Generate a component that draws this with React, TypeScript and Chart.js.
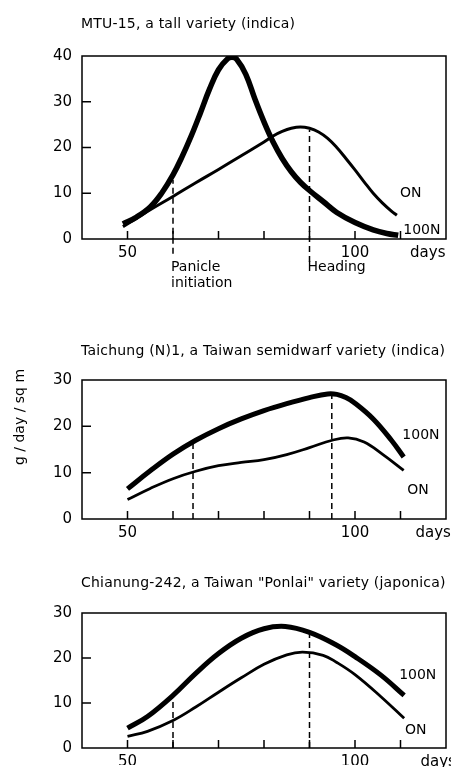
import React, { useEffect, useRef } from 'react';
import { Chart, registerables } from 'chart.js';

Chart.register(...registerables);

const FONT = '"DejaVu Sans", sans-serif';

// ---------- Shared axis data ----------
const xMinDay = 40;
const xMaxDay = 120;
const xTickDays = [50, 60, 70, 80, 90, 100, 110];
const xLabelDays = [50, 100];
const unitLabel = 'days';
const yAxisTitle = 'g / day / sq m';

// ---------- Panel 1: MTU-15 ----------
const mtuTitle = 'MTU-15, a tall variety (indica)';
const mtuYMax = 40;
const mtuYTicks = [10, 20, 30];
const mtuDays100N = [49, 52, 55, 57.5, 60, 62, 64, 66, 68, 70, 72, 73, 74, 76, 78, 80, 82, 84, 86, 88, 90, 93, 96, 100, 104, 107, 109.5];
const mtuVals100N = [3.3, 4.8, 7.0, 10.0, 14.0, 18.0, 22.5, 27.5, 32.7, 37.0, 39.4, 39.7, 39.3, 36.0, 30.6, 25.6, 21.2, 17.6, 14.7, 12.4, 10.6, 8.2, 5.8, 3.6, 2.0, 1.2, 0.8];
const mtuDaysON = [49, 55, 60, 65, 70, 75, 80, 82, 84, 86, 88, 90, 92, 94, 96, 98, 100, 102, 104, 106, 108, 109.2];
const mtuValsON = [2.7, 6.4, 9.3, 12.3, 15.2, 18.2, 21.2, 22.5, 23.5, 24.2, 24.5, 24.2, 23.4, 22.0, 20.0, 17.6, 15.1, 12.5, 10.0, 7.9, 6.1, 5.2];
const mtuMarkerDays = [60, 90];
const mtuMarkerTops = [12.9, 23.8];
const mtuMarkerBottoms = [-3.2, -5.0];
const mtuMarkerNames = [['Panicle', 'initiation'], ['Heading']];

// ---------- Panel 2: Taichung (N)1 ----------
const tcnTitle = 'Taichung (N)1, a Taiwan semidwarf variety (indica)';
const tcnYMax = 30;
const tcnYTicks = [10, 20];
const tcnDays100N = [50, 55, 60, 65, 70, 75, 80, 85, 90, 94, 96, 98, 100, 104, 108, 110.7];
const tcnVals100N = [6.5, 10.4, 14.0, 17.0, 19.5, 21.6, 23.4, 24.9, 26.2, 27.0, 26.9, 26.2, 25.0, 21.6, 17.0, 13.4];
const tcnDaysON = [50, 55, 60, 65, 70, 75, 80, 85, 90, 95, 98.5, 102, 106, 110.7];
const tcnValsON = [4.2, 6.6, 8.7, 10.3, 11.5, 12.2, 12.8, 13.9, 15.4, 17.0, 17.5, 16.6, 14.0, 10.5];
const tcnMarkerDays = [64.4, 94.9];
const tcnMarkerTops = [17.0, 27.1];
const tcnMarkerBottoms = [0, 0];

// ---------- Panel 3: Chianung-242 ----------
const cnTitle = 'Chianung-242, a Taiwan "Ponlai" variety (japonica)';
const cnYMax = 30;
const cnYTicks = [10, 20];
const cnDays100N = [50, 54.4, 60, 65, 70, 75, 80, 84.7, 90, 95.7, 100, 105.7, 110.8];
const cnVals100N = [4.4, 7.0, 11.7, 16.6, 21.0, 24.4, 26.5, 27.0, 25.7, 23.0, 20.3, 16.2, 11.7];
const cnDaysON = [50, 54.4, 60, 65, 70, 75, 80, 85, 88.5, 93, 96, 100, 105.7, 110.8];
const cnValsON = [2.6, 3.7, 6.1, 9.1, 12.4, 15.6, 18.6, 20.7, 21.3, 20.6, 19.0, 16.3, 11.4, 6.6];
const cnMarkerDays = [60, 90];
const cnMarkerTops = [10.3, 25.6];
const cnMarkerBottoms = [0, 0];

// series label anchors (day, value)
const seriesNames = ['100N', 'ON'];
const mtuLabelAnchors = [[110.6, 1.9], [109.9, 10.0]];
const tcnLabelAnchors = [[110.4, 18.1], [111.5, 6.2]];
const cnLabelAnchors = [[109.7, 16.1], [111.0, 4.0]];
const daysLabelAnchors = [112.1, 113.3, 114.4];

type PanelCfg = {
  top: number;
  height: number;
  padTop: number;
  padBottom: number;
  xHeight: number;
  title: string;
  titleY: number;
  yMax: number;
  yTicks: number[];
  d100: number[];
  v100: number[];
  dON: number[];
  vON: number[];
  w100: number;
  wON: number;
  mDays: number[];
  mTops: number[];
  mBottoms: number[];
  mNames?: string[][];
  labelAnchors: number[][];
  daysAt: number;
  yTitle?: boolean;
};

const zip = (xs: number[], ys: number[]) => xs.map((x, i) => ({ x, y: ys[i] }));

const panels: PanelCfg[] = [
  {
    top: 0, height: 300, padTop: 56, padBottom: 41, xHeight: 20,
    title: mtuTitle, titleY: 24, yMax: mtuYMax, yTicks: mtuYTicks,
    d100: mtuDays100N, v100: mtuVals100N, dON: mtuDaysON, vON: mtuValsON,
    w100: 5.5, wON: 3,
    mDays: mtuMarkerDays, mTops: mtuMarkerTops, mBottoms: mtuMarkerBottoms, mNames: mtuMarkerNames,
    labelAnchors: mtuLabelAnchors, daysAt: daysLabelAnchors[0],
  },
  {
    top: 300, height: 245, padTop: 80, padBottom: 6, xHeight: 20,
    title: tcnTitle, titleY: 51.5, yMax: tcnYMax, yTicks: tcnYTicks,
    d100: tcnDays100N, v100: tcnVals100N, dON: tcnDaysON, vON: tcnValsON,
    w100: 5, wON: 2.8,
    mDays: tcnMarkerDays, mTops: tcnMarkerTops, mBottoms: tcnMarkerBottoms,
    labelAnchors: tcnLabelAnchors, daysAt: daysLabelAnchors[1], yTitle: true,
  },
  {
    top: 545, height: 222, padTop: 68, padBottom: 0, xHeight: 17,
    title: cnTitle, titleY: 38.5, yMax: cnYMax, yTicks: cnYTicks,
    d100: cnDays100N, v100: cnVals100N, dON: cnDaysON, vON: cnValsON,
    w100: 5, wON: 2.8,
    mDays: cnMarkerDays, mTops: cnMarkerTops, mBottoms: cnMarkerBottoms,
    labelAnchors: cnLabelAnchors, daysAt: daysLabelAnchors[2],
  },
];

function Panel({ cfg }: { cfg: PanelCfg }) {
  const ref = useRef<HTMLCanvasElement>(null);
  useEffect(() => {
    const canvas = ref.current;
    if (!canvas) return;
    const markerSets = cfg.mDays.map((d, i) => ({
      label: 'marker' + i,
      data: [{ x: d, y: cfg.mBottoms[i] }, { x: d, y: cfg.mTops[i] }],
      borderColor: '#000',
      borderWidth: 1.5,
      borderDash: [6, 4],
      pointRadius: 0,
      tension: 0,
      fill: false,
      clip: false as any,
    }));
    const annot = {
      id: 'annot',
      afterDraw(chart: any) {
        const { ctx, chartArea: a, scales } = chart;
        const xs = scales.x;
        const ys = scales.y;
        ctx.save();
        ctx.strokeStyle = '#000';
        ctx.fillStyle = '#000';
        ctx.lineWidth = 1.5;
        ctx.strokeRect(a.left, a.top, a.right - a.left, a.bottom - a.top);
        ctx.beginPath();
        for (const d of xTickDays) {
          const px = xs.getPixelForValue(d);
          ctx.moveTo(px, a.bottom);
          ctx.lineTo(px, a.bottom - 8);
        }
        for (const v of cfg.yTicks) {
          const py = ys.getPixelForValue(v);
          ctx.moveTo(a.left, py);
          ctx.lineTo(a.left + 9, py);
        }
        ctx.stroke();
        ctx.textBaseline = 'middle';
        ctx.textAlign = 'left';
        // title
        ctx.font = '14px ' + FONT;
        (ctx as any).letterSpacing = '0.2px';
        ctx.fillText(cfg.title, a.left - 1, cfg.titleY);
        (ctx as any).letterSpacing = '0px';
        // series labels
        ctx.font = '14px ' + FONT;
        cfg.labelAnchors.forEach((p, i) => {
          ctx.fillText(seriesNames[i], xs.getPixelForValue(p[0]), ys.getPixelForValue(p[1]));
        });
        // days label aligned with tick labels
        ctx.font = '15px ' + FONT;
        ctx.fillText(unitLabel, xs.getPixelForValue(cfg.daysAt), a.bottom + 5 + 9);
        // marker names
        if (cfg.mNames) {
          ctx.font = '14px ' + FONT;
          cfg.mNames.forEach((lines, i) => {
            const px = xs.getPixelForValue(cfg.mDays[i]) - 2;
            lines.forEach((t, j) => ctx.fillText(t, px, a.bottom + 28 + j * 16));
          });
        }
        if (cfg.yTitle) {
          ctx.font = '14px ' + FONT;
          ctx.translate(20, a.top + 37);
          ctx.rotate(-Math.PI / 2);
          ctx.textAlign = 'center';
          ctx.fillText(yAxisTitle, 0, 0);
        }
        ctx.restore();
      },
    };
    const chart = new Chart(canvas, {
      type: 'line',
      data: {
        datasets: [
          {
            label: seriesNames[0],
            data: zip(cfg.d100, cfg.v100),
            borderColor: '#000',
            borderWidth: cfg.w100,
            pointRadius: 0,
            tension: 0.4,
            fill: false,
          },
          {
            label: seriesNames[1],
            data: zip(cfg.dON, cfg.vON),
            borderColor: '#000',
            borderWidth: cfg.wON,
            pointRadius: 0,
            tension: 0.4,
            fill: false,
          },
          ...markerSets,
        ] as any,
      },
      options: {
        responsive: false,
        animation: false,
        devicePixelRatio: 1,
        layout: { padding: { left: 0, right: 4, top: cfg.padTop, bottom: cfg.padBottom } },
        plugins: { legend: { display: false }, tooltip: { enabled: false }, title: { display: false } },
        scales: {
          x: {
            type: 'linear',
            min: xMinDay,
            max: xMaxDay,
            grid: { display: false, drawTicks: false },
            border: { display: false },
            ticks: {
              stepSize: 10,
              autoSkip: false,
              maxRotation: 0,
              padding: 5,
              color: '#000',
              font: { family: FONT, size: 15 },
              callback: (v: any) => (xLabelDays.includes(Number(v)) ? String(v) : ''),
            },
            afterFit: (s: any) => { s.height = cfg.xHeight; },
          },
          y: {
            type: 'linear',
            min: 0,
            max: cfg.yMax,
            grid: { display: false, drawTicks: false },
            border: { display: false },
            ticks: {
              stepSize: 10,
              padding: 10,
              color: '#000',
              font: { family: FONT, size: 15 },
            },
            afterFit: (s: any) => { s.width = 82; },
          },
        },
      },
      plugins: [annot],
    });
    return () => chart.destroy();
  }, [cfg]);
  return (
    <canvas
      ref={ref}
      width={451}
      height={cfg.height}
      style={{ position: 'absolute', left: 0, top: cfg.top, width: 451, height: cfg.height }}
    />
  );
}

export default function App() {
  return (
    <div style={{ position: 'absolute', left: 0, top: 0, width: 451, height: 767, background: '#fff', overflow: 'hidden' }}>
      {panels.map((p, i) => (
        <Panel key={i} cfg={p} />
      ))}
    </div>
  );
}
